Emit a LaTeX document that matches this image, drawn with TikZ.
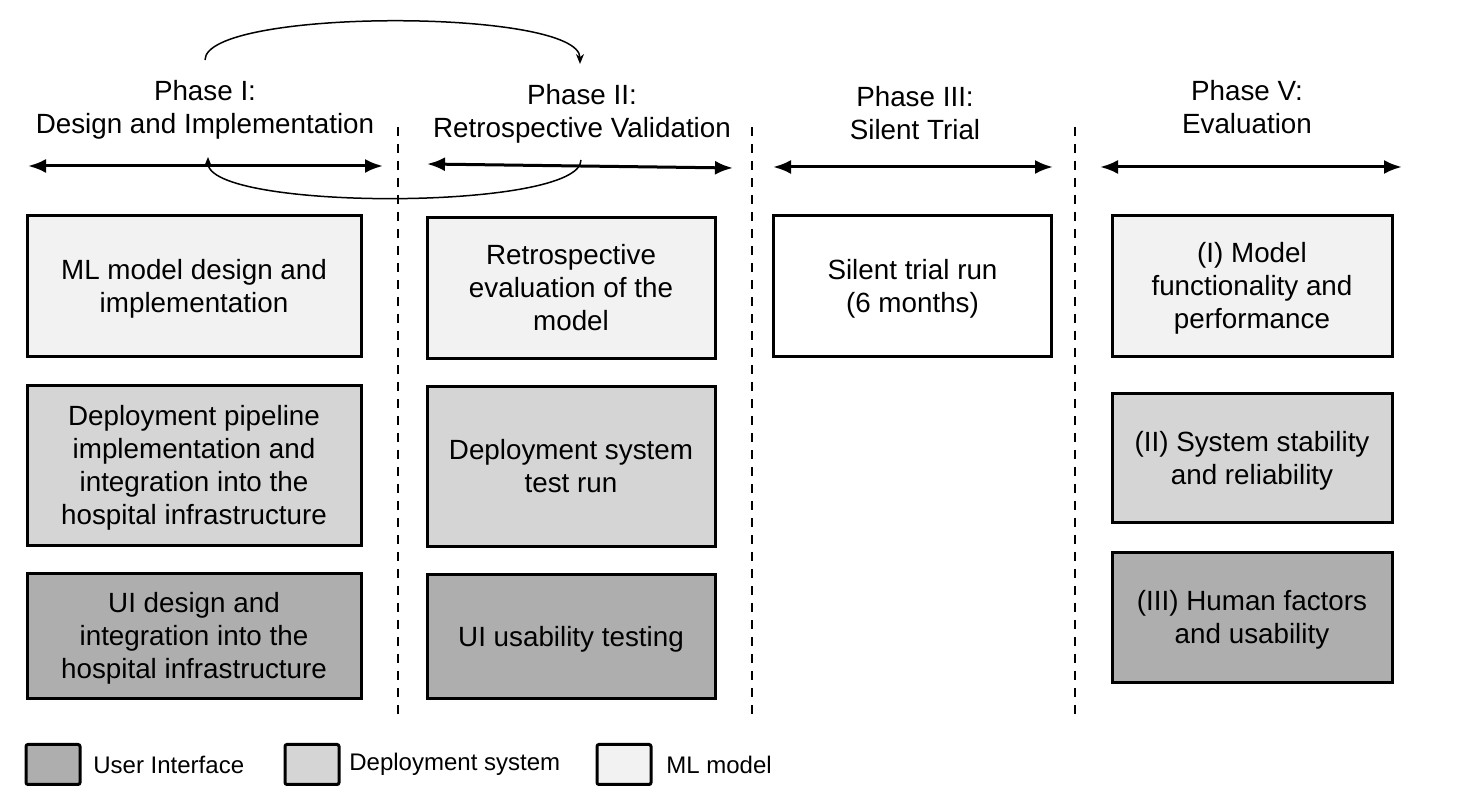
\documentclass[tikz,border=0pt]{standalone}
\usepackage{fontspec}
\setmainfont{Liberation Sans}
\usetikzlibrary{arrows.meta}
\definecolor{mlgray}{HTML}{F2F2F2}
\definecolor{depgray}{HTML}{D5D5D5}
\definecolor{uigray}{HTML}{AEAEAE}
% line box of the slide font, so text sits as in the slides
\newcommand\ls{\rule[-2.95pt]{0pt}{15.55pt}}

\begin{document}
\begin{tikzpicture}[x=0.5pt,y=-0.5pt,
    txt/.style={font=\fontsize{13.9}{16.5}\selectfont,align=center},
    box/.style={txt,draw,line width=1.5pt,inner sep=2pt},
    key/.style={draw,line width=1.5pt,rounded corners=1pt,minimum width=27pt,minimum height=20pt,inner sep=0pt},
    keytxt/.style={font=\fontsize{12}{14}\selectfont,anchor=west,inner sep=0pt},
    span/.style={line width=1.5pt,{Latex[length=9pt,width=7pt]}-{Latex[length=9pt,width=7pt]}},
    sep/.style={line width=1pt,dash pattern=on 4.5pt off 4pt},
    cyc/.style={line width=0.75pt,-{Stealth[length=5pt,width=4pt]}}]
  \useasboundingbox (0,0) rectangle (1464,806);

  % phase headers
  \node[txt](p1)at(205,109.5){Phase I:\\Design and Implementation};
  \node[txt](p2)at(582,114){Phase II:\\Retrospective Validation};
  \node[txt](p3)at(915,113.5){Phase III:\\Silent Trial};
  \node[txt](p5)at(1247,107){Phase V:\\Evaluation};

  % phase spans
  \coordinate(l1)at(28,166);   \coordinate(r1)at(383,166);
  \coordinate(l2)at(427,164);  \coordinate(r2)at(733,168);
  \coordinate(l3)at(773,167);  \coordinate(r3)at(1053,167);
  \coordinate(l5)at(1100,167); \coordinate(r5)at(1402,167);
  \draw[span](l1)--(r1);
  \draw[span](l2)--(r2);
  \draw[span](l3)--(r3);
  \draw[span](l5)--(r5);

  % separators
  \draw[sep](398,127)--(398,720);
  \draw[sep](752,127)--(752,720);
  \draw[sep](1075,127)--(1075,720);

  % loop between phase I and II
  \coordinate(t1)at(205,60);  \coordinate(t2)at(580,64);
  \coordinate(b1)at(208,157); \coordinate(b2)at(581,160);
  \draw[cyc](t1) .. controls (205,8) and (580,8) .. (t2);
  \draw[cyc](b2) .. controls (581,211) and (208,211) .. (b1);

  % phase I
  \node[box,fill=mlgray,minimum width=167pt,minimum height=70.5pt](m1)at(194,286){\ls ML model design and\\implementation\ls};
  \node[box,fill=depgray,minimum width=167pt,minimum height=80pt](d1)at(194,465.5){\ls Deployment pipeline\\implementation and\\integration into the\\hospital infrastructure\ls};
  \node[box,fill=uigray,minimum width=167pt,minimum height=62.5pt](u1)at(194,636){\ls UI design and\\integration into the\\hospital infrastructure\ls};

  % phase II
  \node[box,fill=mlgray,minimum width=144pt,minimum height=70.5pt](m2)at(571,288){\ls Retrospective\\evaluation of the\\model\ls};
  \node[box,fill=depgray,minimum width=144pt,minimum height=80pt](d2)at(571,466.5){\ls Deployment system\\test run\ls};
  \node[box,fill=uigray,minimum width=144pt,minimum height=62pt](u2)at(571,636.5){\ls UI usability testing\ls};

  % phase III
  \node[box,fill=white,minimum width=139pt,minimum height=70.5pt](s3)at(912.5,286){\ls Silent trial run\\(6 months)\ls};

  % phase V
  \node[box,fill=mlgray,minimum width=140pt,minimum height=70.5pt](m5)at(1252,286){\ls (I) Model\\functionality and\\performance\ls};
  \node[box,fill=depgray,minimum width=140pt,minimum height=64.5pt](d5)at(1252,458){\ls (II) System stability\\and reliability\ls};
  \node[box,fill=uigray,minimum width=140pt,minimum height=65pt](u5)at(1252,617.5){\ls (III) Human factors\\and usability\ls};

  % legend
  \node[key,fill=uigray](k1)at(53,764.5){};
  \node[keytxt](k1t)at(93,765){User Interface};
  \node[key,fill=depgray](k2)at(312,764.5){};
  \node[keytxt](k2t)at(349,764){Deployment system};
  \node[key,fill=mlgray](k3)at(624,764.5){};
  \node[keytxt](k3t)at(666,765){ML model};
\end{tikzpicture}
\end{document}
